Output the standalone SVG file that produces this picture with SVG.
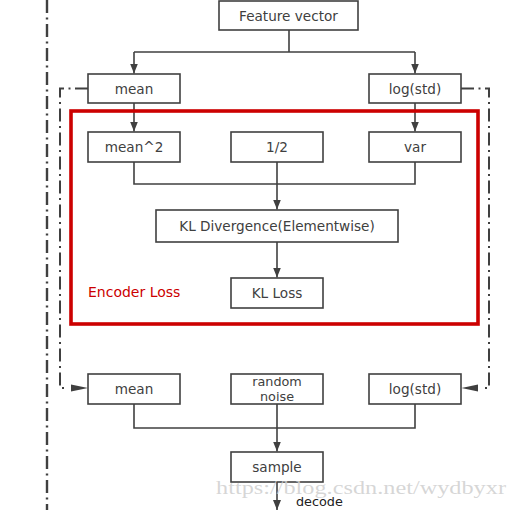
<svg xmlns="http://www.w3.org/2000/svg" width="517" height="510" viewBox="0 0 517 510">
<style>
.box{fill:#fff;stroke:#404040;stroke-width:1.6}
.t{font-family:"DejaVu Sans","Noto Sans",sans-serif;font-size:13.6px;fill:#404040;text-anchor:middle}
.ln{fill:none;stroke:#404040;stroke-width:1.6}
.dd{fill:none;stroke:#404040;stroke-width:2.4;stroke-dasharray:13 4.5 2 4.5}
.ah{fill:#404040}
</style>
<defs>
<marker id="arr" markerWidth="10" markerHeight="8" refX="10" refY="4" orient="auto" markerUnits="userSpaceOnUse">
<path d="M0,0 L10,4 L0,8 Z" fill="#404040"/>
</marker>
</defs>
<rect x="0" y="0" width="517" height="510" fill="#fff"/>

<g id="connectors">
<path class="ln" d="M289,30 V52 M134,52 H415"/>
<path class="ln" d="M134,52 V73.5" marker-end="url(#arr)"/>
<path class="ln" d="M415,52 V73.5" marker-end="url(#arr)"/>
<path class="ln" d="M134,103 V131.5" marker-end="url(#arr)"/>
<path class="ln" d="M415,103 V131.5" marker-end="url(#arr)"/>
<path class="ln" d="M134,162 V184 H415 V162 M277,162 V184"/>
<path class="ln" d="M277,184 V209.5" marker-end="url(#arr)"/>
<path class="ln" d="M277,242 V277.5" marker-end="url(#arr)"/>
<path class="ln" d="M134,404 V428 H415 V404 M277,404 V428"/>
<path class="ln" d="M277,428 V451.5" marker-end="url(#arr)"/>
<path class="ln" d="M277,482 V510" marker-end="url(#arr)"/>
<path class="dd" d="M47,0 V510"/>
<path class="dd" style="stroke-width:2" d="M88,88.5 H60 V388 H65"/>
<polygon class="ah" points="71,384.5 88,388 71,391.5"/>
<path class="dd" style="stroke-width:2" d="M461,88.5 H489 V388 H484"/>
<polygon class="ah" points="478,384.5 461.5,388 478,391.5"/>
</g>

<g id="encoder-loss">
<rect x="71" y="111" width="407" height="213" fill="none" stroke="#cc0000" stroke-width="3.6"/>
<text x="88" y="297" style="font-family:'DejaVu Sans','Noto Sans',sans-serif;font-size:14px;fill:#cc0000">Encoder Loss</text>
</g>

<g id="feature-vector"><rect class="box" x="219" y="1" width="139" height="29"/><text class="t" x="288.5" y="20.5">Feature vector</text></g>
<g id="mean-top"><rect class="box" x="88" y="74" width="92" height="29"/><text class="t" x="134" y="93.5">mean</text></g>
<g id="logstd-top"><rect class="box" x="369" y="74" width="92" height="29"/><text class="t" x="415" y="93.5">log(std)</text></g>
<g id="mean-sq"><rect class="box" x="88" y="132" width="92" height="30"/><text class="t" x="134" y="152">mean^2</text></g>
<g id="half"><rect class="box" x="231" y="132" width="92" height="30"/><text class="t" x="277" y="152">1/2</text></g>
<g id="var"><rect class="box" x="369" y="132" width="92" height="30"/><text class="t" x="415" y="152">var</text></g>
<g id="kl-div"><rect class="box" x="156" y="210" width="242" height="32"/><text class="t" x="277" y="231">KL Divergence(Elementwise)</text></g>
<g id="kl-loss"><rect class="box" x="231" y="278" width="92" height="30"/><text class="t" x="277" y="298">KL Loss</text></g>
<g id="mean-bot"><rect class="box" x="88" y="374" width="92" height="30"/><text class="t" x="134" y="394">mean</text></g>
<g id="noise"><rect class="box" x="231" y="374" width="92" height="30"/><text class="t" x="277" y="385.5" style="font-size:12.8px">random</text><text class="t" x="277" y="401" style="font-size:12.8px">noise</text></g>
<g id="logstd-bot"><rect class="box" x="369" y="374" width="92" height="30"/><text class="t" x="415" y="394">log(std)</text></g>
<g id="sample"><rect class="box" x="231" y="452" width="92" height="30"/><text class="t" x="277" y="472">sample</text></g>
<text x="296" y="506" style="font-family:'DejaVu Sans','Noto Sans',sans-serif;font-size:12.8px;fill:#202020">decode</text>
<text x="216" y="494" textLength="290" lengthAdjust="spacingAndGlyphs" style="font-family:'Liberation Serif',serif;font-size:18px;fill:#cfcfcf;fill-opacity:0.85">https://blog.csdn.net/wydbyxr</text>
</svg>
